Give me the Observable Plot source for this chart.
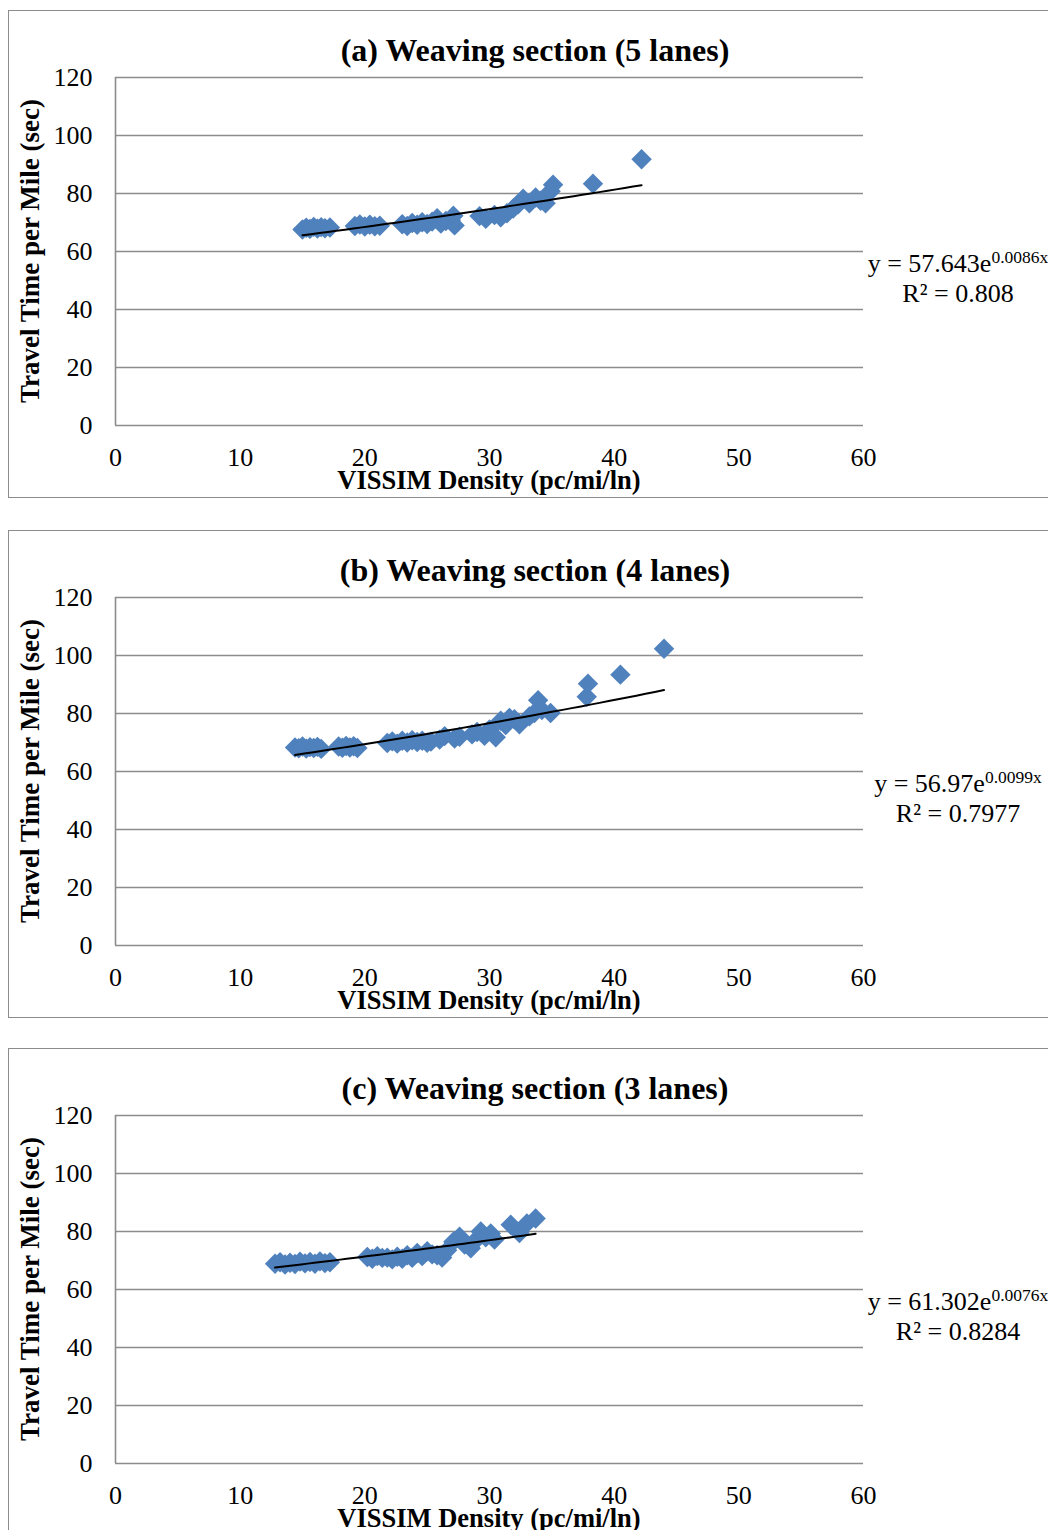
<!DOCTYPE html>
<html>
<head>
<meta charset="utf-8">
<script src="https://cdn.jsdelivr.net/npm/d3@7"></script>
<script src="https://cdn.jsdelivr.net/npm/@observablehq/plot@0.6"></script>
<style>
html, body { margin: 0; padding: 0; background: #fff; width: 1048px; height: 1530px; overflow: hidden; }
body { position: relative; font-family: "Liberation Serif", "Times New Roman", serif; color: #000; }
.panel { position: absolute; left: 0; width: 1048px; height: 519px; }
.frame { position: absolute; left: 8px; top: 10px; width: 1100px; height: 488px; border: 1.5px solid #8c8c8c; box-sizing: border-box; }
.plot { position: absolute; left: 0; top: 0; }
.title { position: absolute; left: 235px; width: 600px; top: 33px; line-height: 34px; text-align: center; font-weight: bold; font-size: 32px; white-space: nowrap; }
.ylab { position: absolute; left: -170px; width: 400px; top: 235px; height: 32px; line-height: 32px; text-align: center; font-weight: bold; font-size: 27px; transform: rotate(-90deg); white-space: nowrap; }
.xlab { position: absolute; left: 289px; width: 400px; top: 464px; line-height: 32px; text-align: center; font-weight: bold; font-size: 26.5px; white-space: nowrap; }
.eq { position: absolute; left: 808px; width: 300px; top: 249px; line-height: 30px; text-align: center; font-size: 26px; white-space: nowrap; }
.eq .sup { font-size: 17.5px; vertical-align: 9px; line-height: 0; }
</style>
</head>
<body>
<script>
// ---- data ----
const xTicks = [0, 10, 20, 30, 40, 50, 60];
const yTicks = [0, 20, 40, 60, 80, 100, 120];

const titles = ["(a) Weaving section (5 lanes)", "(b) Weaving section (4 lanes)", "(c) Weaving section (3 lanes)"];
const xTitle = "VISSIM Density (pc/mi/ln)";
const yTitle = "Travel Time per Mile (sec)";

// panel (a) 5 lanes
const xA = [15.0, 15.3, 15.6, 15.9, 16.2, 16.5, 16.8, 17.2,
            19.2, 19.6, 20.0, 20.4, 20.8, 21.2,
            23.0, 23.4, 23.8, 24.2, 24.6, 25.0, 25.4, 25.8, 26.1, 26.5, 26.9, 27.1, 27.2,
            29.2, 29.7, 30.4, 30.9, 31.4, 31.9, 32.3, 32.7, 33.2, 33.7, 34.1, 34.5, 34.9, 35.1,
            38.3, 42.2];
const yA = [67.6, 68.2, 67.8, 68.5, 67.9, 68.4, 68.0, 68.3,
            68.8, 69.3, 68.6, 69.2, 68.7, 68.9,
            69.4, 68.8, 69.8, 69.2, 70.1, 69.5, 70.3, 71.5, 69.6, 70.5, 70.8, 72.3, 69.0,
            72.2, 71.3, 72.6, 71.8, 73.2, 74.8, 76.3, 78.2, 76.6, 78.6, 77.5, 76.6, 80.8, 83.0,
            83.4, 91.8];
const fitA = {a: 57.643, b: 0.0086, eq: "57.643", exp: "0.0086x", r2: "0.808"};

// panel (b) 4 lanes
const xB = [14.4, 14.7, 15.0, 15.3, 15.6, 15.9, 16.2, 16.5,
            17.9, 18.2, 18.5, 18.8, 19.1, 19.4,
            21.8, 22.2, 22.6, 23.0, 23.4, 23.8, 24.2, 24.6, 25.0, 25.3,
            26.0, 26.4, 27.2, 27.6, 28.6, 29.0, 29.6, 30.0, 30.5, 30.9, 31.3, 31.6, 32.0, 32.4,
            33.2, 33.6, 33.9, 34.2, 34.9, 37.8, 37.9, 40.5, 44.0];
const yB = [68.3, 68.0, 68.6, 67.9, 68.4, 68.1, 68.5, 67.8,
            68.6, 68.2, 68.8, 68.3, 68.7, 68.1,
            69.8, 70.4, 69.6, 70.6, 70.0, 70.8, 70.2, 70.6, 69.9, 70.3,
            71.0, 72.2, 71.4, 72.0, 72.8, 73.6, 72.3, 74.5, 71.8, 77.5, 76.0, 78.5, 78.0, 76.3,
            79.0, 80.2, 84.6, 81.2, 80.2, 85.8, 90.3, 93.4, 102.3];
const fitB = {a: 56.97, b: 0.0099, eq: "56.97", exp: "0.0099x", r2: "0.7977"};

// panel (c) 3 lanes
const xC = [12.8, 13.2, 13.6, 14.0, 14.4, 14.8, 15.2, 15.6, 16.0, 16.4, 16.8, 17.2,
            20.2, 20.6, 21.0, 21.4, 21.8, 22.2, 22.6, 23.0, 23.4, 23.8, 24.2, 24.6, 25.0, 25.4, 25.8, 26.2,
            26.6, 27.1, 27.6, 28.0, 28.5, 28.9, 29.3, 29.7, 30.1, 30.4, 31.7, 32.4, 33.0, 33.7];
const yC = [68.9, 69.4, 68.6, 69.2, 68.8, 69.6, 69.0, 69.5, 68.9, 69.7, 69.1, 69.4,
            71.2, 70.6, 71.5, 70.9, 71.0, 70.4, 71.3, 70.6, 71.8, 70.9, 72.6, 71.5, 73.2, 72.1, 71.8, 71.0,
            73.5, 76.5, 78.2, 75.5, 74.2, 77.0, 80.0, 78.0, 79.3, 77.2, 82.3, 79.5, 82.8, 84.5];
const fitC = {a: 61.302, b: 0.0076, eq: "61.302", exp: "0.0076x", r2: "0.8284"};

// ---- drawing ----
const panels = [
  {x: xA, y: yA, fit: fitA, top: 0},
  {x: xB, y: yB, fit: fitB, top: 520},
  {x: xC, y: yC, fit: fitC, top: 1038}
];

panels.forEach((p, i) => {
  const wrap = document.createElement("div");
  wrap.className = "panel";
  wrap.style.top = p.top + "px";
  document.body.appendChild(wrap);

  const frame = document.createElement("div");
  frame.className = "frame";
  wrap.appendChild(frame);

  const pts = p.x.map((v, k) => ({x: v, y: p.y[k]}));
  const x0 = d3.min(p.x), x1 = d3.max(p.x);
  const trend = d3.range(0, 41).map(k => {
    const xv = x0 + (x1 - x0) * k / 40;
    return {x: xv, y: p.fit.a * Math.exp(p.fit.b * xv)};
  });

  const chart = Plot.plot({
    width: 1048,
    height: 519,
    marginLeft: 115,
    marginRight: 185,
    marginTop: 77,
    marginBottom: 94,
    style: {fontFamily: "'Liberation Serif', 'Times New Roman', serif", fontSize: "26px", color: "#000", background: "transparent", overflow: "visible"},
    x: {domain: [0, 60]},
    y: {domain: [0, 120]},
    marks: [
      Plot.ruleY(yTicks, {stroke: "#8c8c8c", strokeWidth: 1.6}),
      Plot.ruleX([0], {stroke: "#8c8c8c", strokeWidth: 1.6}),
      Plot.axisY(yTicks, {tickSize: 0, tickPadding: 23, fontSize: 26, label: null}),
      Plot.axisX(xTicks, {tickSize: 0, tickPadding: 22, fontSize: 26, label: null}),
      Plot.dot(pts, {x: "x", y: "y", symbol: "diamond2", r: 9.2, fill: "#4F81BD", stroke: "none"}),
      Plot.line(trend, {x: "x", y: "y", stroke: "#000", strokeWidth: 2})
    ]
  });
  chart.classList.add("plot");
  wrap.appendChild(chart);

  const t = document.createElement("div");
  t.className = "title";
  t.textContent = titles[i];
  wrap.appendChild(t);

  const yl = document.createElement("div");
  yl.className = "ylab";
  yl.textContent = yTitle;
  wrap.appendChild(yl);

  const xl = document.createElement("div");
  xl.className = "xlab";
  xl.textContent = xTitle;
  wrap.appendChild(xl);

  const eq = document.createElement("div");
  eq.className = "eq";
  eq.innerHTML = "y = " + p.fit.eq + "e<span class=\"sup\">" + p.fit.exp + "</span><br>R² = " + p.fit.r2;
  wrap.appendChild(eq);
});
</script>
</body>
</html>
